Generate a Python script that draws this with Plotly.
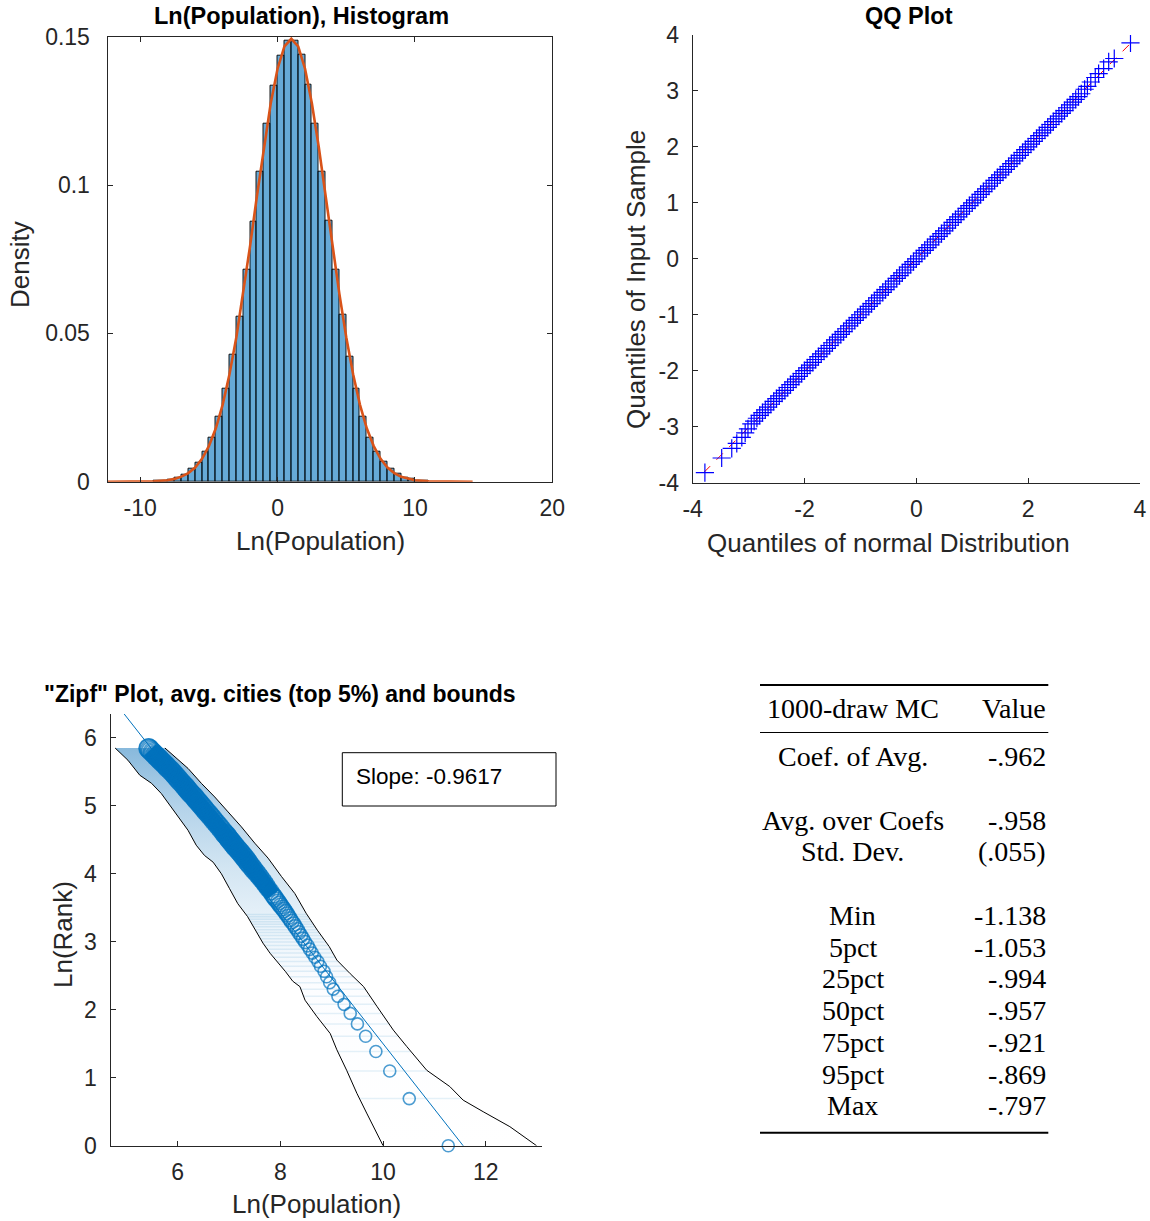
import numpy as np
import plotly.graph_objects as go

W, H = 1150, 1221
def px(x): return x / W
def py(y): return 1 - y / H

FONT = "Liberation Sans, Arial, Helvetica, sans-serif"
SERIF = "Liberation Serif, Times New Roman, serif"
TXT = "#262626"
BLUE = "#0072BD"

# ---------------- Histogram data ----------------
HIST_BIN_LEFT = [-9.0, -8.5, -8.0, -7.5, -7.0, -6.5, -6.0, -5.5, -5.0, -4.5,
                 -4.0, -3.5, -3.0, -2.5, -2.0, -1.5, -1.0, -0.5, 0.0, 0.5,
                 1.0, 1.5, 2.0, 2.5, 3.0, 3.5, 4.0, 4.5, 5.0, 5.5,
                 6.0, 6.5, 7.0, 7.5, 8.0, 8.5, 9.0, 9.5, 10.0, 10.5]
HIST_DENSITY = [0.0002, 0.0004, 0.0008, 0.0012, 0.0025, 0.0043, 0.0065, 0.0101, 0.0149, 0.0220,
                0.0312, 0.0427, 0.0557, 0.0715, 0.0878, 0.1044, 0.1206, 0.1336, 0.1436, 0.1488,
                0.1485, 0.1439, 0.1338, 0.1206, 0.1044, 0.0879, 0.0715, 0.0563, 0.0422, 0.0312,
                0.0220, 0.0149, 0.0101, 0.0067, 0.0043, 0.0026, 0.0013, 0.0009, 0.0005, 0.0002]
BIN_WIDTH = 0.5

PDF_X = [-12.4, -10, -9, -8, -7.5, -7, -6.5, -6, -5.5, -5, -4.5, -4, -3.5, -3, -2.5, -2,
         -1.5, -1, -0.5, 0, 0.5, 1, 1.5, 2, 2.5, 3, 3.5, 4, 4.5, 5, 5.5, 6, 6.5, 7,
         7.5, 8, 8.5, 9, 10, 11, 12, 14.2]
PDF_Y = [0.0, 0.00003, 0.00014, 0.0005, 0.00095, 0.0017, 0.0029, 0.0048, 0.0077, 0.0120,
         0.0179, 0.0259, 0.0362, 0.0487, 0.0633, 0.0795, 0.0964, 0.1128, 0.1275, 0.1392,
         0.1467, 0.1493, 0.1467, 0.1392, 0.1275, 0.1128, 0.0964, 0.0795, 0.0633, 0.0487,
         0.0362, 0.0259, 0.0179, 0.0120, 0.0077, 0.0048, 0.0029, 0.0017, 0.0005, 0.00014,
         0.00003, 0.0]

# ---------------- QQ data ----------------
QQ_THEO = [-3.78, -3.48, -3.30, -3.21, -3.12, -3.06, -3.01,
           -2.95, -2.90, -2.85, -2.80, -2.75, -2.70, -2.65, -2.60, -2.55, -2.50,
           -2.45, -2.40, -2.35, -2.30, -2.25, -2.20, -2.15, -2.10, -2.05, -2.00,
           -1.95, -1.90, -1.85, -1.80, -1.75, -1.70, -1.65, -1.60, -1.55, -1.50,
           -1.45, -1.40, -1.35, -1.30, -1.25, -1.20, -1.15, -1.10, -1.05, -1.00,
           -0.95, -0.90, -0.85, -0.80, -0.75, -0.70, -0.65, -0.60, -0.55, -0.50,
           -0.45, -0.40, -0.35, -0.30, -0.25, -0.20, -0.15, -0.10, -0.05, 0.00,
           0.05, 0.10, 0.15, 0.20, 0.25, 0.30, 0.35, 0.40, 0.45, 0.50,
           0.55, 0.60, 0.65, 0.70, 0.75, 0.80, 0.85, 0.90, 0.95, 1.00,
           1.05, 1.10, 1.15, 1.20, 1.25, 1.30, 1.35, 1.40, 1.45, 1.50,
           1.55, 1.60, 1.65, 1.70, 1.75, 1.80, 1.85, 1.90, 1.95, 2.00,
           2.05, 2.10, 2.15, 2.20, 2.25, 2.30, 2.35, 2.40, 2.45, 2.50,
           2.55, 2.60, 2.65, 2.70, 2.75, 2.80, 2.85, 2.90, 2.95,
           3.01, 3.06, 3.12, 3.20, 3.26, 3.35, 3.44, 3.54, 3.83]
QQ_SAMPLE = [-3.82, -3.56, -3.39, -3.30, -3.19, -3.11, -3.04,
             -2.95, -2.90, -2.85, -2.80, -2.75, -2.70, -2.65, -2.60, -2.55, -2.50,
             -2.45, -2.40, -2.35, -2.30, -2.25, -2.20, -2.15, -2.10, -2.05, -2.00,
             -1.95, -1.90, -1.85, -1.80, -1.75, -1.70, -1.65, -1.60, -1.55, -1.50,
             -1.45, -1.40, -1.35, -1.30, -1.25, -1.20, -1.15, -1.10, -1.05, -1.00,
             -0.95, -0.90, -0.85, -0.80, -0.75, -0.70, -0.65, -0.60, -0.55, -0.50,
             -0.45, -0.40, -0.35, -0.30, -0.25, -0.20, -0.15, -0.10, -0.05, 0.00,
             0.05, 0.10, 0.15, 0.20, 0.25, 0.30, 0.35, 0.40, 0.45, 0.50,
             0.55, 0.60, 0.65, 0.70, 0.75, 0.80, 0.85, 0.90, 0.95, 1.00,
             1.05, 1.10, 1.15, 1.20, 1.25, 1.30, 1.35, 1.40, 1.45, 1.50,
             1.55, 1.60, 1.65, 1.70, 1.75, 1.80, 1.85, 1.90, 1.95, 2.00,
             2.05, 2.10, 2.15, 2.20, 2.25, 2.30, 2.35, 2.40, 2.45, 2.50,
             2.55, 2.60, 2.65, 2.70, 2.75, 2.80, 2.85, 2.90, 2.95,
             3.03, 3.08, 3.16, 3.24, 3.31, 3.40, 3.52, 3.58, 3.86]
QQ_LINE_X = [-3.80, 3.84]
QQ_LINE_Y = [-3.82, 3.86]

# ---------------- Zipf data ----------------
ZIPF_RANK = [1, 2, 3, 4, 5, 6, 7, 8, 9, 10, 11, 12, 13, 14, 15, 16, 17, 18, 19, 20,
             21, 22, 23, 24, 25, 26, 27, 28, 29, 30, 31, 32, 33, 34, 35, 36, 37, 38, 39, 40,
             42, 44, 46, 48, 50, 52, 54, 56, 58, 60, 62, 64, 66, 68, 70, 72, 74, 76, 78, 80,
             82, 84, 86, 88, 90, 92, 94, 96, 98, 100,
             104, 108, 112, 116, 120, 124, 128, 132, 136, 140, 144, 148, 152, 156,
             160, 164, 168, 172, 176, 180, 184, 188, 192, 196, 200,
             206, 212, 218, 224, 230, 236, 242, 248, 254, 260, 266, 272, 278, 284,
             290, 296, 302, 308, 314, 320, 326, 332, 338, 344, 346]
ZIPF_LNPOP = [11.27, 10.51, 10.13, 9.86, 9.66, 9.50, 9.36, 9.24, 9.12, 9.03,
              8.96, 8.90, 8.85, 8.78, 8.73, 8.67, 8.62, 8.57, 8.53, 8.48,
              8.44, 8.40, 8.36, 8.33, 8.29, 8.26, 8.22, 8.19, 8.16, 8.13,
              8.10, 8.07, 8.04, 8.01, 7.98, 7.96, 7.93, 7.90, 7.88, 7.85,
              7.81, 7.76, 7.72, 7.68, 7.64, 7.60, 7.56, 7.52, 7.48, 7.45,
              7.41, 7.38, 7.35, 7.32, 7.29, 7.26, 7.23, 7.20, 7.17, 7.14,
              7.11, 7.09, 7.06, 7.04, 7.01, 6.99, 6.97, 6.95, 6.92, 6.90,
              6.86, 6.82, 6.78, 6.74, 6.70, 6.67, 6.63, 6.60, 6.56, 6.53, 6.50, 6.47, 6.44, 6.41,
              6.38, 6.35, 6.33, 6.30, 6.27, 6.24, 6.22, 6.19, 6.17, 6.15, 6.12,
              6.09, 6.05, 6.02, 5.99, 5.96, 5.93, 5.90, 5.87, 5.84, 5.80, 5.78, 5.75, 5.72, 5.69,
              5.66, 5.64, 5.61, 5.58, 5.56, 5.53, 5.51, 5.48, 5.46, 5.44, 5.43]
assert len(ZIPF_RANK) == len(ZIPF_LNPOP)

# lower (left) bound, listed top -> bottom
ZIPF_LO_X = [4.78, 5.03, 5.26, 5.49, 5.68, 5.91, 6.04, 6.20, 6.36, 6.52, 6.69, 6.85, 7.01, 7.17,
             7.36, 7.52, 7.66, 7.80, 7.95, 8.10, 8.24, 8.38, 8.48, 8.71, 8.97, 9.10, 9.29,
             9.49, 9.68, 9.88, 10.00]
ZIPF_LO_Y = [5.85, 5.67, 5.45, 5.33, 5.18, 4.94, 4.79, 4.64, 4.42, 4.27, 4.17, 4.00, 3.78, 3.56,
             3.37, 3.17, 2.98, 2.83, 2.70, 2.56, 2.42, 2.34, 2.14, 1.90, 1.65, 1.41, 1.11,
             0.77, 0.48, 0.18, 0.0]
# upper (right) bound, listed top -> bottom
ZIPF_HI_X = [5.75, 5.94, 6.20, 6.46, 6.72, 6.98, 7.24, 7.50, 7.76, 8.02, 8.28, 8.50, 8.72,
             8.95, 9.10, 9.36, 9.62, 9.88, 10.07, 10.20, 10.46, 10.85, 11.30, 11.56, 11.95,
             12.47, 12.99]
ZIPF_HI_Y = [5.85, 5.72, 5.55, 5.33, 5.13, 4.91, 4.69, 4.45, 4.23, 3.96, 3.71, 3.42, 3.17,
             2.93, 2.73, 2.53, 2.34, 2.05, 1.85, 1.70, 1.46, 1.11, 0.87, 0.67, 0.50,
             0.28, 0.0]
FIT_SLOPE = -0.9617
FIT_INTERCEPT = 11.117

# ---------------- Table ----------------
TABLE_HEADER = ["1000-draw MC", "Value"]
TABLE_LABELS = ["Coef. of Avg.", "", "Avg. over Coefs", "Std. Dev.", "",
                "Min", "5pct", "25pct", "50pct", "75pct", "95pct", "Max"]
TABLE_VALUES = ["-.962", "", "-.958", "(.055)", "",
                "-1.138", "-1.053", "-.994", "-.957", "-.921", "-.869", "-.797"]

# ---------------- Axis ranges / ticks ----------------
HIST_XR = [-12.38, 20.0]
HIST_YR = [0, 0.15]
QQ_R = [-4, 4]
ZIPF_XR = [4.69, 13.09]
ZIPF_YR = [0, 6.35]

def lbl(vals):
    return [("%g" % v) for v in vals]   # plain hyphen-minus, as in the original

fig = go.Figure()

# Histogram
fig.add_trace(go.Bar(
    x=[b + BIN_WIDTH / 2 for b in HIST_BIN_LEFT], y=HIST_DENSITY, width=BIN_WIDTH,
    marker=dict(color="rgba(0,114,189,0.6)", line=dict(color="rgba(0,0,0,0.9)", width=1)),
    xaxis="x", yaxis="y", hoverinfo="skip"))
fig.add_trace(go.Scatter(x=PDF_X, y=PDF_Y, mode="lines", line=dict(color="#D95319", width=2.6),
                         xaxis="x", yaxis="y", hoverinfo="skip"))

# QQ
fig.add_trace(go.Scatter(x=QQ_LINE_X, y=QQ_LINE_Y, mode="lines",
                         line=dict(color="red", width=1, dash="dash"),
                         xaxis="x2", yaxis="y2"))
fig.add_trace(go.Scatter(x=QQ_THEO, y=QQ_SAMPLE, mode="markers",
                         marker=dict(symbol="cross-thin-open", size=13, color="blue",
                                     line=dict(color="blue", width=1.2)),
                         xaxis="x2", yaxis="y2"))

# Zipf: gradient band between bounds
poly_x = ZIPF_LO_X + ZIPF_HI_X[::-1]
poly_y = ZIPF_LO_Y + ZIPF_HI_Y[::-1]
fig.add_trace(go.Scatter(
    x=poly_x, y=poly_y, mode="lines", fill="toself", line=dict(width=0, color="rgba(0,0,0,0)"),
    fillgradient=dict(type="vertical", start=0, stop=max(ZIPF_LO_Y),
                      colorscale=[[0.0, "rgb(255,255,255)"], [0.40, "rgb(252,253,255)"],
                                  [0.55, "rgb(234,243,250)"], [0.70, "rgb(210,229,242)"],
                                  [0.85, "rgb(180,211,234)"], [1.0, "rgb(136,185,220)"]]),
    xaxis="x3", yaxis="y3", hoverinfo="skip"))
# faint horizontal lines at low ranks
lo_y_asc = ZIPF_LO_Y[::-1]; lo_x_asc = ZIPF_LO_X[::-1]
hi_y_asc = ZIPF_HI_Y[::-1]; hi_x_asc = ZIPF_HI_X[::-1]
hx, hy = [], []
for r in ZIPF_RANK:
    if 2 <= r <= 30:
        yv = float(np.log(r))
        hx += [float(np.interp(yv, lo_y_asc, lo_x_asc)), float(np.interp(yv, hi_y_asc, hi_x_asc)), None]
        hy += [yv, yv, None]
fig.add_trace(go.Scatter(x=hx, y=hy, mode="lines", line=dict(color="rgba(0,114,189,0.10)", width=1.5),
                         xaxis="x3", yaxis="y3", hoverinfo="skip"))
fig.add_trace(go.Scatter(x=ZIPF_LO_X, y=ZIPF_LO_Y, mode="lines", line=dict(color="black", width=1),
                         xaxis="x3", yaxis="y3"))
fig.add_trace(go.Scatter(x=ZIPF_HI_X, y=ZIPF_HI_Y, mode="lines", line=dict(color="black", width=1),
                         xaxis="x3", yaxis="y3"))
fig.add_trace(go.Scatter(x=ZIPF_XR, y=[FIT_INTERCEPT + FIT_SLOPE * v for v in ZIPF_XR], mode="lines",
                         line=dict(color=BLUE, width=1), xaxis="x3", yaxis="y3"))
lnr = np.log(ZIPF_RANK)
# where the circles pile up they merge into a solid stroke: draw that part as a thick line
dense = [i for i, r in enumerate(ZIPF_RANK) if 40 <= r <= 338]
fig.add_trace(go.Scatter(x=[ZIPF_LNPOP[i] for i in dense], y=[lnr[i] for i in dense], mode="lines",
                         line=dict(color=BLUE, width=16), xaxis="x3", yaxis="y3", hoverinfo="skip"))
msize = 12 + 7 * np.clip((lnr - 2.8) / 1.4, 0, 1)
fig.add_trace(go.Scatter(x=ZIPF_LNPOP, y=lnr, mode="markers", cliponaxis=False,
                         marker=dict(symbol="circle-open", size=msize, color=BLUE,
                                     line=dict(color=BLUE, width=1.6)),
                         xaxis="x3", yaxis="y3"))

def ax(domain, rng, tickvals, mirror=False, anchor=None, standoff=8):
    return dict(domain=domain, range=rng, tickvals=tickvals, ticktext=lbl(tickvals),
                ticks="inside", ticklen=5, tickwidth=1, tickcolor=TXT, showline=True,
                linecolor=TXT, linewidth=1, mirror=mirror, showgrid=False, zeroline=False,
                anchor=anchor, automargin=False,
                tickfont=dict(family=FONT, size=23, color=TXT), fixedrange=True,
                ticklabelstandoff=standoff)

fig.update_layout(
    width=W, height=H, margin=dict(l=0, r=0, t=0, b=0, pad=0, autoexpand=False),
    paper_bgcolor="white", plot_bgcolor="rgba(0,0,0,0)", showlegend=False, bargap=0,
    font=dict(family=FONT, color=TXT),
    xaxis=ax([px(107.5), px(552.3)], HIST_XR, [-10, 0, 10, 20], mirror="allticks", anchor="y", standoff=6),
    yaxis=ax([py(481.7), py(36.7)], HIST_YR, [0, 0.05, 0.1, 0.15], mirror="allticks", anchor="x", standoff=12),
    xaxis2=ax([px(692.6), px(1140)], QQ_R, [-4, -2, 0, 2, 4], anchor="y2", standoff=6),
    yaxis2=ax([py(482.6), py(35)], QQ_R, [-4, -3, -2, -1, 0, 1, 2, 3, 4], anchor="x2", standoff=8),
    xaxis3=ax([px(110.5), px(541.7)], ZIPF_XR, [6, 8, 10, 12], anchor="y3", standoff=6),
    yaxis3=ax([py(1145.7), py(714)], ZIPF_YR, [0, 1, 2, 3, 4, 5, 6], anchor="x3", standoff=8),
)

ann = []
def text(x, y, s, size, angle=0, bold=False, family=FONT, xanchor="center", color="black"):
    ann.append(dict(x=px(x), y=py(y), xref="paper", yref="paper", text=("<b>%s</b>" % s) if bold else s,
                    showarrow=False, textangle=angle, xanchor=xanchor, yanchor="middle",
                    font=dict(family=family, size=size, color=color)))

text(301, 16, "Ln(Population), Histogram", 23.5, bold=True)
text(909, 16, "QQ Plot", 23.5, bold=True)
text(280, 694, "\"Zipf\" Plot, avg. cities (top 5%) and bounds", 23, bold=True)
text(20, 265, "Density", 26, angle=-90, color=TXT)
text(320, 541, "Ln(Population)", 26, color=TXT)
text(636, 280, "Quantiles of Input Sample", 26, angle=-90, color=TXT)
text(888, 543, "Quantiles of normal Distribution", 26, color=TXT)
text(63, 935, "Ln(Rank)", 26, angle=-90, color=TXT)
text(316, 1204, "Ln(Population)", 26, color=TXT)

# slope box
text(354, 776, "Slope: %.4f" % FIT_SLOPE, 22.5, xanchor="left")
shapes = [dict(type="rect", xref="paper", yref="paper", x0=px(342.3), x1=px(556), y0=py(806), y1=py(752.7),
               line=dict(color="black", width=1))]

# table
TAB_L, TAB_R, TAB_C = 760, 1048.3, 852.5
ROW0, ROWH = 756.7, 31.75
TFS = 28
text(TAB_C, 708.3, TABLE_HEADER[0], TFS, family=SERIF)
text(TAB_R, 708.3, TABLE_HEADER[1], TFS, family=SERIF, xanchor="right")
for i, (lab, val) in enumerate(zip(TABLE_LABELS, TABLE_VALUES)):
    yy = ROW0 + i * ROWH
    if lab:
        text(TAB_C, yy, lab, TFS, family=SERIF)
    if val:
        text(TAB_R, yy, val, TFS, family=SERIF, xanchor="right")
for yy, lw in [(685, 2), (732.5, 1.2), (1132.7, 2)]:
    shapes.append(dict(type="line", xref="paper", yref="paper", x0=px(TAB_L), x1=px(TAB_R),
                       y0=py(yy), y1=py(yy), line=dict(color="black", width=lw)))

fig.update_layout(annotations=ann, shapes=shapes)
fig.write_html("out.html", config={"displayModeBar": False},
               post_script="document.body.style.margin='0px';document.body.style.overflow='hidden';")
